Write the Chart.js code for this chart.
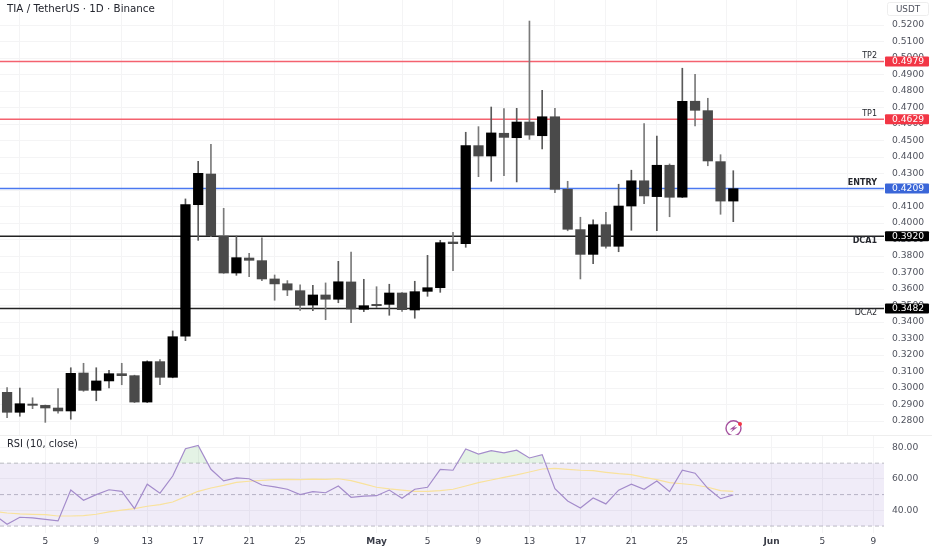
<!DOCTYPE html>
<html>
<head>
<meta charset="utf-8">
<style>
html,body{margin:0;padding:0;background:#fff;overflow:hidden}
#wrap{position:relative;width:932px;height:550px;background:#fff}
canvas{position:absolute;left:0}
#price{top:0}
#rsi{top:435px}
</style>
<script src="https://cdn.jsdelivr.net/npm/chart.js@4/dist/chart.umd.min.js"></script>
</head>
<body>
<div id="wrap">
<canvas id="price" width="932" height="435"></canvas>
<canvas id="rsi" width="932" height="115"></canvas>
</div>
<script>
// Day numbers count from 1 April (1 May = 31, 1 June = 62)
const firstCandleDay = 2;
const opens = [.2974,.2853,.2903,.2895,.2879,.2861,.3091,.2986,.3043,.3087,.3075,.2915,.3160,.3065,.3314,.4111,.4297,.3921,.3697,.3788,.3772,.3661,.3632,.3590,.3503,.3564,.3538,.3643,.3477,.3507,.3507,.3576,.3473,.3586,.3608,.3885,.3875,.4469,.4406,.4544,.4517,.4612,.4529,.4644,.4204,.3960,.3810,.3990,.3859,.4103,.4256,.4160,.4350,.4156,.4738,.4681,.4372,.4133];
const highs = [.3003,.3000,.2941,.2897,.2996,.3123,.3150,.3123,.3108,.3150,.3078,.3165,.3172,.3346,.4146,.4374,.4477,.4089,.3921,.3817,.3911,.3685,.3651,.3626,.3623,.3637,.3768,.3824,.3659,.3614,.3629,.3578,.3647,.3804,.3895,.3944,.4550,.4584,.4703,.4693,.4695,.5224,.4804,.4695,.4253,.4035,.4020,.4065,.4235,.4320,.4602,.4527,.4358,.4938,.4901,.4756,.4414,.4317];
const lows = [.2821,.2829,.2875,.2792,.2847,.2811,.2980,.2923,.3000,.3020,.2912,.2912,.3020,.3062,.3287,.3895,.3917,.3695,.3683,.3675,.3651,.3532,.3560,.3471,.3469,.3414,.3517,.3396,.3463,.3487,.3441,.3465,.3423,.3556,.3580,.3711,.3853,.4281,.4253,.4287,.4249,.4507,.4449,.4184,.3953,.3661,.3753,.3847,.3826,.3956,.4117,.3953,.4038,.4154,.4588,.4347,.4053,.4008];
const closes = [.2853,.2905,.2895,.2879,.2861,.3089,.2986,.3043,.3087,.3075,.2915,.3160,.3065,.3311,.4111,.4301,.3923,.3697,.3790,.3774,.3661,.3631,.3594,.3501,.3564,.3538,.3644,.3479,.3499,.3499,.3576,.3475,.3584,.3608,.3881,.3875,.4469,.4406,.4546,.4519,.4612,.4533,.4644,.4204,.3962,.3810,.3990,.3859,.4103,.4256,.4164,.4350,.4156,.4738,.4683,.4376,.4133,.4208];

const firstRsiDay = 1;
const rsiValues = [37.1,31.2,35.6,35.2,34.3,33.3,52.9,46.4,50.0,53.1,52.1,41.1,56.6,50.9,61.8,79.2,81.3,66.1,58.7,60.6,60.1,56.1,54.9,53.4,50.0,51.9,51.2,55.5,48.3,49.1,49.3,52.9,47.7,53.4,54.7,66.1,65.5,79.0,75.8,77.9,76.6,78.2,73.3,75.4,53.8,46.0,41.5,47.9,44.1,52.8,56.6,53.4,58.7,51.9,65.5,63.6,54.0,47.4,49.8];
const rsiMaValues = [39.3,38.3,37.7,37.5,37.3,36.4,36.4,36.6,37.5,39.0,40.2,41.1,42.6,43.6,45.3,48.7,52.1,54.2,55.9,57.8,58.5,59.1,59.5,59.7,59.5,59.9,59.7,60.1,58.9,56.8,54.7,53.6,52.8,52.1,52.1,52.5,53.4,55.5,57.6,59.3,61.0,62.5,64.4,66.3,66.7,66.1,65.5,65.2,64.2,63.3,62.7,61.0,59.5,57.6,56.9,56.1,54.7,52.5,52.1];

const tickDays = [5,9,13,17,21,25,31,35,39,43,47,51,55,62,66,70];
const tickLabels = ['5','9','13','17','21','25','May','5','9','13','17','21','25','Jun','5','9'];
const priceTicks = [.28,.29,.30,.31,.32,.33,.34,.35,.36,.37,.38,.39,.40,.41,.42,.43,.44,.45,.46,.47,.48,.49,.50,.51,.52];
const rsiTicks = [40,60,80];
const rsiBands = [70,50,30];

const levelNames = ['TP2','TP1','ENTRY','DCA1','DCA2'];
const levelPrices = [.4979,.4629,.4209,.3920,.3482];
const levelColors = ['#f4626f','#f4626f','#4a78f0','#222222','#222222'];
const tagColors = ['#f23645','#f23645','#3a66d8','#000000','#000000'];
const labelBold = [false,false,true,true,false];
const labelAbove = [true,true,true,false,false];

const xMin = 1.444, xMax = 70.83;
const AXIS_W = 48;
const FONT = '"DejaVu Sans", sans-serif';
const GRID = '#f4f4f5', TXT = '#50535e';

const candleDays = opens.map((_, i) => firstCandleDay + i);
const rsiDays = rsiValues.map((_, i) => firstRsiDay + i);
const isUp = opens.map((o, i) => closes[i] >= o);
const bodyColor = isUp.map(u => u ? '#000000' : '#4a4a4a');
const wickColor = isUp.map(u => u ? '#5a5a5a' : '#7a7a7a');
const span = v => [{x: xMin, y: v}, {x: xMax, y: v}];

function xScale(showLabels) {
  return {
    type: 'linear', min: xMin, max: xMax, offset: false,
    border: {display: false},
    grid: {color: GRID, lineWidth: 1, drawTicks: false},
    afterBuildTicks: s => { s.ticks = tickDays.map(v => ({value: v})); },
    afterFit: s => { s.height = showLabels ? 17 : 0; s.paddingLeft = 0; s.paddingRight = 0; },
    ticks: {
      display: showLabels, autoSkip: false, maxRotation: 0, padding: 3,
      color: '#3a3d48',
      font: ctx => ({family: FONT, size: 9, weight: isNaN(+tickLabels[ctx.index]) ? 'bold' : 'normal'}),
      callback: (v, i) => tickLabels[i]
    }
  };
}

function yScale(min, max, ticksList, digits) {
  return {
    type: 'linear', position: 'right', min, max,
    border: {display: false},
    grid: {color: GRID, lineWidth: 1, drawTicks: false},
    afterBuildTicks: s => { s.ticks = ticksList.map(v => ({value: v})); },
    afterFit: s => { s.width = AXIS_W; s.paddingTop = 0; s.paddingBottom = 0; },
    ticks: {
      color: TXT, padding: 8, autoSkip: false,
      font: {family: FONT, size: 9.2},
      callback: v => Number(v).toFixed(digits)
    }
  };
}

const pricePlugin = {
  id: 'priceOverlay',
  afterDraw(chart) {
    const c = chart.ctx, y = chart.scales.y;
    c.save();
    // header
    c.textBaseline = 'middle';
    c.textAlign = 'left';
    c.fillStyle = '#23252e';
    c.font = '500 10.3px ' + FONT;
    c.fillText('TIA / TetherUS · 1D · Binance', 7, 9);
    // currency box
    c.fillStyle = '#fff';
    c.strokeStyle = '#eeeeee';
    c.beginPath();
    c.roundRect(887.5, 2.5, 41, 13, 2);
    c.fill(); c.stroke();
    c.fillStyle = TXT;
    c.font = '8.8px ' + FONT;
    c.textAlign = 'center';
    c.fillText('USDT', 908, 9.5);
    // price level labels and tags
    levelPrices.forEach((p, i) => {
      const py = y.getPixelForValue(p);
      c.fillStyle = '#26282f';
      c.textAlign = 'right';
      c.font = (labelBold[i] ? 'bold ' : '') + '8px ' + FONT;
      c.fillText(levelNames[i], 877, py + (labelAbove[i] ? -5.5 : 4.5));
      c.fillStyle = tagColors[i];
      c.beginPath();
      c.roundRect(885, py - 5, 44, 10, 1);
      c.fill();
      c.fillStyle = '#fff';
      c.textAlign = 'left';
      c.font = '9.2px ' + FONT;
      c.fillText(p.toFixed(4), 892, py + 0.5);
    });
    // watermark icon
    c.strokeStyle = '#a5519f';
    c.lineWidth = 1.4;
    c.beginPath();
    c.arc(733.5, 428.3, 7.5, 0, Math.PI * 2);
    c.stroke();
    c.fillStyle = '#a5519f';
    c.beginPath();
    c.moveTo(736.5, 424.5); c.lineTo(729.5, 429.5); c.lineTo(733, 429.3);
    c.lineTo(730.8, 432.3); c.lineTo(737.5, 427.3); c.lineTo(734, 427.6);
    c.closePath(); c.fill();
    c.fillStyle = '#f23645';
    c.beginPath();
    c.arc(740, 424, 2, 0, Math.PI * 2);
    c.fill();
    c.restore();
  }
};

const rsiPlugin = {
  id: 'rsiOverlay',
  beforeDatasetsDraw(chart) {
    const y = chart.scales.y;
    const g = chart.ctx.createLinearGradient(0, y.getPixelForValue(81), 0, y.getPixelForValue(70));
    g.addColorStop(0, 'rgba(76,175,80,0.28)');
    g.addColorStop(1, 'rgba(76,175,80,0.02)');
    chart.data.datasets[0].fill.above = g;
  },
  afterDraw(chart) {
    const c = chart.ctx;
    c.save();
    c.strokeStyle = '#eeeeee';
    c.beginPath(); c.moveTo(0, 0.5); c.lineTo(932, 0.5); c.stroke();
    c.fillStyle = '#23252e';
    c.font = '9.85px ' + FONT;
    c.textAlign = 'left';
    c.textBaseline = 'middle';
    c.fillText('RSI (10, close)', 7, 9);
    c.restore();
  }
};

new Chart(document.getElementById('price'), {
  type: 'bar',
  plugins: [pricePlugin],
  data: {
    datasets: [
      {label: 'Wick', order: 2, grouped: false, barThickness: 1,
       backgroundColor: wickColor, borderWidth: 0,
       data: candleDays.map((d, i) => ({x: d, y: [lows[i], highs[i]]}))},
      {label: 'Body', order: 1, grouped: false, barThickness: 9.6,
       backgroundColor: bodyColor, borderWidth: 0,
       data: candleDays.map((d, i) => ({x: d, y: [opens[i], closes[i]]}))},
      ...levelPrices.map((p, i) => ({
        type: 'line', label: levelNames[i], order: 3, data: span(p),
        borderColor: levelColors[i], borderWidth: 1.4, pointRadius: 0, fill: false
      }))
    ]
  },
  options: {
    responsive: false, animation: false,
    layout: {padding: 0},
    plugins: {legend: {display: false}, tooltip: {enabled: false}, title: {display: false}},
    scales: {x: xScale(false), y: yScale(0.27154, 0.53515, priceTicks, 4)}
  }
});

new Chart(document.getElementById('rsi'), {
  type: 'line',
  plugins: [rsiPlugin],
  data: {
    datasets: [
      {label: 'RSI', order: 1, data: rsiDays.map((d, i) => ({x: d, y: rsiValues[i]})),
       borderColor: '#a48ccb', borderWidth: 1.2, pointRadius: 0, tension: 0,
       fill: {target: {value: 70}, above: 'rgba(76,175,80,0.15)', below: 'rgba(0,0,0,0)'}},
      {label: 'RSI MA', order: 2, data: rsiDays.map((d, i) => ({x: d, y: rsiMaValues[i]})),
       borderColor: '#f9e29c', borderWidth: 1.2, pointRadius: 0, tension: 0, fill: false},
      {label: 'Band', order: 3, data: span(rsiBands[0]), borderColor: '#bdbdc4', borderWidth: 1,
       borderDash: [4, 3], pointRadius: 0, fill: {target: {value: rsiBands[2]}, above: 'rgba(126,87,194,0.115)', below: 'rgba(126,87,194,0.115)'}},
      {label: 'Mid', order: 3, data: span(rsiBands[1]), borderColor: '#bdbdc4', borderWidth: 1,
       borderDash: [4, 3], pointRadius: 0, fill: false},
      {label: 'Low', order: 3, data: span(rsiBands[2]), borderColor: '#bdbdc4', borderWidth: 1,
       borderDash: [4, 3], pointRadius: 0, fill: false}
    ]
  },
  options: {
    responsive: false, animation: false,
    layout: {padding: 0},
    plugins: {legend: {display: false}, tooltip: {enabled: false}, filler: {propagate: false}},
    scales: {x: xScale(true), y: yScale(25.6, 87.9, rsiTicks, 2)}
  }
});
</script>
</body>
</html>
